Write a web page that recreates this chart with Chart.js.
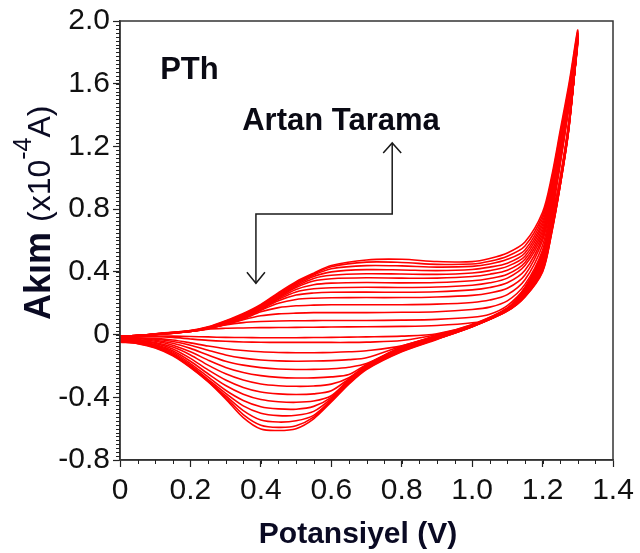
<!DOCTYPE html>
<html><head><meta charset="utf-8">
<script src="https://cdn.jsdelivr.net/npm/chart.js@4.4.1/dist/chart.umd.min.js"></script>
<style>html,body{margin:0;padding:0;background:#fff;}#wrap{width:640px;height:553px;}</style>
</head><body><div id="wrap"><canvas id="c" width="640" height="553"></canvas></div>
<script>
// ---- data ----
const xTickLabels = ["0","0.2","0.4","0.6","0.8","1.0","1.2","1.4"];
const yTickLabels = ["-0.8","-0.4","0","0.4","0.8","1.2","1.6","2.0"];
const xTitle = "Potansiyel (V)";
const yTitleMain = "Akım";
const yTitleUnitA = "(x10";
const yTitleExp = "-4";
const yTitleUnitB = "A)";
const sampleLabel = "PTh";
const arrowLabel = "Artan Tarama";

// potentials of the forward (anodic) and reverse (cathodic) branches, V
const potentialForward = [0, 0.1, 0.2, 0.25, 0.3, 0.35, 0.4, 0.45, 0.5, 0.55, 0.6, 0.7, 0.8, 0.9, 1.0, 1.05, 1.1, 1.15, 1.2, 1.225, 1.25, 1.275, 1.3];
const potentialReverse = [1.275, 1.25, 1.225, 1.2, 1.15, 1.1, 1.0, 0.9, 0.8, 0.7, 0.65, 0.6, 0.55, 0.5, 0.45, 0.4, 0.35, 0.3, 0.25, 0.2, 0.15, 0.1, 0.05, 0];

// current (x10^-4 A), forward branch of each scan
const fwd1  = [-0.01, 0.0, 0.02, 0.035, 0.04, 0.042, 0.044, 0.045, 0.046, 0.047, 0.048, 0.05, 0.052, 0.058, 0.075, 0.1, 0.16, 0.28, 0.5, 0.75, 1.08, 1.45, 1.86];
const fwd2  = [-0.01, 0.0, 0.02, 0.04, 0.062, 0.076, 0.083, 0.087, 0.088, 0.089, 0.09, 0.09, 0.092, 0.097, 0.11, 0.13, 0.185, 0.3, 0.52, 0.77, 1.1, 1.46, 1.87];
const fwd3  = [-0.01, 0.0, 0.02, 0.038, 0.064, 0.095, 0.12, 0.132, 0.137, 0.14, 0.14, 0.14, 0.142, 0.146, 0.16, 0.175, 0.215, 0.32, 0.54, 0.79, 1.12, 1.47, 1.88];
const fwd4  = [-0.01, 0.0, 0.02, 0.038, 0.066, 0.1, 0.145, 0.172, 0.184, 0.188, 0.19, 0.19, 0.19, 0.194, 0.205, 0.22, 0.255, 0.35, 0.57, 0.81, 1.13, 1.48, 1.88];
const fwd5  = [-0.012, 0.0, 0.02, 0.039, 0.068, 0.105, 0.155, 0.2, 0.224, 0.232, 0.235, 0.236, 0.236, 0.24, 0.25, 0.265, 0.295, 0.38, 0.6, 0.83, 1.15, 1.49, 1.89];
const fwd6  = [-0.012, 0.001, 0.021, 0.04, 0.07, 0.108, 0.16, 0.215, 0.252, 0.265, 0.27, 0.271, 0.27, 0.273, 0.285, 0.3, 0.33, 0.41, 0.62, 0.85, 1.16, 1.5, 1.89];
const fwd7  = [-0.014, 0.001, 0.021, 0.041, 0.072, 0.111, 0.164, 0.225, 0.272, 0.292, 0.299, 0.302, 0.3, 0.303, 0.315, 0.33, 0.36, 0.44, 0.64, 0.87, 1.18, 1.51, 1.9];
const fwd8  = [-0.014, 0.002, 0.022, 0.042, 0.074, 0.114, 0.168, 0.232, 0.288, 0.318, 0.328, 0.332, 0.33, 0.332, 0.343, 0.358, 0.385, 0.46, 0.66, 0.88, 1.19, 1.52, 1.9];
const fwd9  = [-0.016, 0.002, 0.022, 0.043, 0.076, 0.117, 0.172, 0.238, 0.3, 0.342, 0.356, 0.362, 0.36, 0.36, 0.37, 0.385, 0.41, 0.48, 0.68, 0.9, 1.2, 1.53, 1.91];
const fwd10 = [-0.016, 0.003, 0.023, 0.044, 0.078, 0.12, 0.176, 0.244, 0.308, 0.358, 0.378, 0.388, 0.386, 0.384, 0.393, 0.408, 0.435, 0.5, 0.7, 0.92, 1.22, 1.54, 1.91];
const fwd11 = [-0.018, 0.003, 0.023, 0.045, 0.08, 0.123, 0.18, 0.25, 0.316, 0.37, 0.4, 0.414, 0.412, 0.408, 0.415, 0.43, 0.455, 0.52, 0.72, 0.94, 1.24, 1.55, 1.92];
const fwd12 = [-0.018, 0.004, 0.024, 0.046, 0.082, 0.126, 0.184, 0.256, 0.324, 0.38, 0.42, 0.44, 0.438, 0.43, 0.435, 0.45, 0.48, 0.54, 0.74, 0.96, 1.26, 1.56, 1.92];
const fwd13 = [-0.02, 0.004, 0.025, 0.047, 0.085, 0.13, 0.188, 0.262, 0.331, 0.386, 0.432, 0.462, 0.46, 0.448, 0.45, 0.468, 0.5, 0.565, 0.76, 0.98, 1.28, 1.58, 1.93];
const fwd14 = [-0.02, 0.005, 0.026, 0.049, 0.088, 0.134, 0.192, 0.268, 0.338, 0.392, 0.44, 0.476, 0.48, 0.466, 0.465, 0.485, 0.52, 0.59, 0.78, 1.0, 1.3, 1.6, 1.94];

// current (x10^-4 A), reverse branch of each scan
const rev1  = [1.36, 1.0, 0.72, 0.52, 0.3, 0.17, 0.065, 0.005, -0.01, -0.015, -0.016, -0.018, -0.019, -0.02, -0.02, -0.02, -0.019, -0.018, -0.015, -0.012, -0.01, -0.01, -0.012, -0.015];
const rev2  = [1.36, 0.99, 0.71, 0.5, 0.29, 0.168, 0.062, 0.0, -0.038, -0.048, -0.05, -0.05, -0.05, -0.05, -0.05, -0.049, -0.047, -0.043, -0.037, -0.028, -0.018, -0.013, -0.014, -0.016];
const rev3  = [1.35, 0.99, 0.7, 0.49, 0.285, 0.166, 0.06, -0.005, -0.072, -0.103, -0.11, -0.114, -0.116, -0.116, -0.114, -0.11, -0.102, -0.09, -0.073, -0.053, -0.035, -0.024, -0.02, -0.019];
const rev4  = [1.35, 0.98, 0.69, 0.48, 0.28, 0.164, 0.058, -0.008, -0.074, -0.148, -0.16, -0.166, -0.169, -0.17, -0.168, -0.162, -0.15, -0.13, -0.1, -0.068, -0.044, -0.03, -0.023, -0.021];
const rev5  = [1.35, 0.98, 0.68, 0.47, 0.275, 0.162, 0.057, -0.01, -0.078, -0.185, -0.208, -0.218, -0.222, -0.223, -0.22, -0.211, -0.195, -0.17, -0.13, -0.088, -0.055, -0.036, -0.027, -0.024];
const rev6  = [1.34, 0.97, 0.68, 0.46, 0.27, 0.16, 0.056, -0.013, -0.082, -0.19, -0.255, -0.27, -0.276, -0.277, -0.273, -0.262, -0.242, -0.21, -0.163, -0.11, -0.068, -0.043, -0.031, -0.027];
const rev7  = [1.34, 0.97, 0.67, 0.45, 0.265, 0.158, 0.055, -0.016, -0.086, -0.195, -0.275, -0.316, -0.328, -0.33, -0.326, -0.315, -0.29, -0.25, -0.195, -0.13, -0.08, -0.05, -0.036, -0.03];
const rev8  = [1.34, 0.97, 0.67, 0.44, 0.26, 0.156, 0.054, -0.019, -0.09, -0.2, -0.282, -0.358, -0.378, -0.382, -0.378, -0.366, -0.337, -0.29, -0.225, -0.152, -0.092, -0.056, -0.04, -0.034];
const rev9  = [1.33, 0.96, 0.66, 0.43, 0.255, 0.155, 0.053, -0.021, -0.094, -0.203, -0.288, -0.39, -0.424, -0.432, -0.428, -0.414, -0.38, -0.325, -0.25, -0.17, -0.103, -0.063, -0.044, -0.037];
const rev10 = [1.33, 0.96, 0.66, 0.42, 0.25, 0.154, 0.052, -0.023, -0.097, -0.207, -0.294, -0.4, -0.458, -0.476, -0.474, -0.46, -0.42, -0.355, -0.27, -0.185, -0.112, -0.069, -0.048, -0.04];
const rev11 = [1.33, 0.96, 0.65, 0.415, 0.248, 0.153, 0.051, -0.025, -0.1, -0.211, -0.3, -0.408, -0.49, -0.515, -0.517, -0.502, -0.455, -0.375, -0.285, -0.195, -0.12, -0.074, -0.051, -0.043];
const rev12 = [1.32, 0.95, 0.65, 0.41, 0.245, 0.152, 0.05, -0.027, -0.104, -0.215, -0.306, -0.416, -0.515, -0.55, -0.558, -0.545, -0.485, -0.39, -0.293, -0.202, -0.126, -0.078, -0.054, -0.045];
const rev13 = [1.32, 0.95, 0.64, 0.405, 0.242, 0.151, 0.05, -0.029, -0.107, -0.219, -0.311, -0.424, -0.527, -0.582, -0.592, -0.578, -0.51, -0.4, -0.298, -0.207, -0.13, -0.082, -0.056, -0.046];
const rev14 = [1.32, 0.95, 0.64, 0.4, 0.24, 0.15, 0.05, -0.031, -0.11, -0.223, -0.316, -0.43, -0.537, -0.6, -0.612, -0.603, -0.53, -0.41, -0.3, -0.21, -0.135, -0.085, -0.058, -0.048];

const forwardScans = [fwd1, fwd2, fwd3, fwd4, fwd5, fwd6, fwd7, fwd8, fwd9, fwd10, fwd11, fwd12, fwd13, fwd14];
const reverseScans = [rev1, rev2, rev3, rev4, rev5, rev6, rev7, rev8, rev9, rev10, rev11, rev12, rev13, rev14];

// annotation anchors in data units
const sampleLabelAt = [0.114, 1.632];
const arrowLabelAt = [0.347, 1.306];
const arrowPath = [[0.386, 0.327], [0.386, 0.769], [0.773, 0.769], [0.773, 1.222]];
const xMinorStep = 0.05, yMinorStep = 0.025;

// ---- chart ----
const FONT = '"Liberation Sans", Arial, Helvetica, sans-serif';
Chart.defaults.font.family = FONT;

const datasets = forwardScans.map((f, k) => {
  const pts = potentialForward.map((v, i) => ({x: v, y: f[i]}))
    .concat(potentialReverse.map((v, i) => ({x: v, y: reverseScans[k][i]})));
  return {data: pts, showLine: true, borderColor: '#ff0000', borderWidth: 1.6,
          pointRadius: 0, tension: 0.3, fill: false};
});

const decor = {
  id: 'decor',
  afterDatasetsDraw(chart) {
    const {ctx, chartArea: a, scales: {x, y}} = chart;
    ctx.save();
    // frame
    ctx.strokeStyle = '#333'; ctx.lineWidth = 1.5;
    ctx.strokeRect(a.left, a.top, a.right - a.left, a.bottom - a.top);
    // minor ticks
    ctx.lineWidth = 1; ctx.strokeStyle = '#222';
    ctx.beginPath();
    for (let v = x.min + xMinorStep; v < x.max - 1e-9; v += xMinorStep) {
      const px = Math.round(x.getPixelForValue(v)) + 0.5;
      ctx.moveTo(px, a.bottom); ctx.lineTo(px, a.bottom + 4);
    }
    for (let v = y.min + yMinorStep; v < y.max - 1e-9; v += yMinorStep) {
      const py = Math.round(y.getPixelForValue(v)) + 0.5;
      ctx.moveTo(a.left, py); ctx.lineTo(a.left - 4, py);
    }
    ctx.stroke();
    // arrow
    ctx.strokeStyle = '#1a1a1a'; ctx.lineWidth = 1.5;
    const P = arrowPath.map(p => [x.getPixelForValue(p[0]), y.getPixelForValue(p[1])]);
    ctx.beginPath();
    P.forEach((p, i) => i ? ctx.lineTo(p[0], p[1]) : ctx.moveTo(p[0], p[1]));
    ctx.stroke();
    const s = P[0], e = P[P.length - 1];
    ctx.beginPath();
    ctx.moveTo(s[0] - 9, s[1] - 11); ctx.lineTo(s[0], s[1]); ctx.lineTo(s[0] + 9, s[1] - 11);
    ctx.moveTo(e[0] - 9, e[1] + 10); ctx.lineTo(e[0], e[1]); ctx.lineTo(e[0] + 9, e[1] + 10);
    ctx.stroke();
    // in-plot texts
    ctx.fillStyle = '#0a0a14';
    ctx.textBaseline = 'alphabetic'; ctx.textAlign = 'left';
    ctx.font = 'bold 31px ' + FONT;
    ctx.fillText(sampleLabel, x.getPixelForValue(sampleLabelAt[0]), y.getPixelForValue(sampleLabelAt[1]));
    ctx.fillText(arrowLabel, x.getPixelForValue(arrowLabelAt[0]), y.getPixelForValue(arrowLabelAt[1]));
    // x title
    ctx.textAlign = 'center';
    ctx.font = 'bold 30px ' + FONT;
    ctx.fillStyle = '#0a0a23';
    ctx.fillText(xTitle, 358, 543);
    // y title (rotated, with superscript)
    ctx.translate(50, 320); ctx.rotate(-Math.PI / 2);
    ctx.textAlign = 'left';
    let cx = 0;
    ctx.font = 'bold 36px ' + FONT; ctx.fillText(yTitleMain, cx, 0); cx += ctx.measureText(yTitleMain + ' ').width;
    ctx.font = '32px ' + FONT; ctx.fillText(yTitleUnitA, cx, 0); cx += ctx.measureText(yTitleUnitA).width;
    ctx.font = '25px ' + FONT; ctx.fillText(yTitleExp, cx, -19); cx += ctx.measureText(yTitleExp).width;
    ctx.font = '32px ' + FONT; ctx.fillText(yTitleUnitB, cx, 0);
    ctx.restore();
  }
};

new Chart(document.getElementById('c'), {
  type: 'scatter',
  data: {datasets},
  options: {
    responsive: false, animation: false, devicePixelRatio: 1, events: [],
    layout: {padding: {top: 17, right: 27, left: 0, bottom: 0}},
    plugins: {legend: {display: false}, tooltip: {enabled: false}},
    scales: {
      x: {
        type: 'linear', min: 0, max: 1.4,
        afterFit: s => { s.height = 93; },
        ticks: {stepSize: 0.2, padding: 6, color: '#111', font: {size: 30},
                maxRotation: 0, autoSkip: false,
                callback: (v, i) => xTickLabels[i]},
        grid: {drawOnChartArea: false, drawTicks: true, tickLength: 7, tickColor: '#222', tickWidth: 1.2},
        border: {display: true, color: '#333', width: 1.5}
      },
      y: {
        type: 'linear', min: -0.8, max: 2.0,
        afterFit: s => { s.width = 120; },
        ticks: {stepSize: 0.4, padding: 3, color: '#111', font: {size: 30}, autoSkip: false,
                callback: (v, i) => yTickLabels[i]},
        grid: {drawOnChartArea: false, drawTicks: true, tickLength: 7, tickColor: '#222', tickWidth: 1.2},
        border: {display: true, color: '#333', width: 1.5}
      }
    }
  },
  plugins: [decor]
});
</script></body></html>
